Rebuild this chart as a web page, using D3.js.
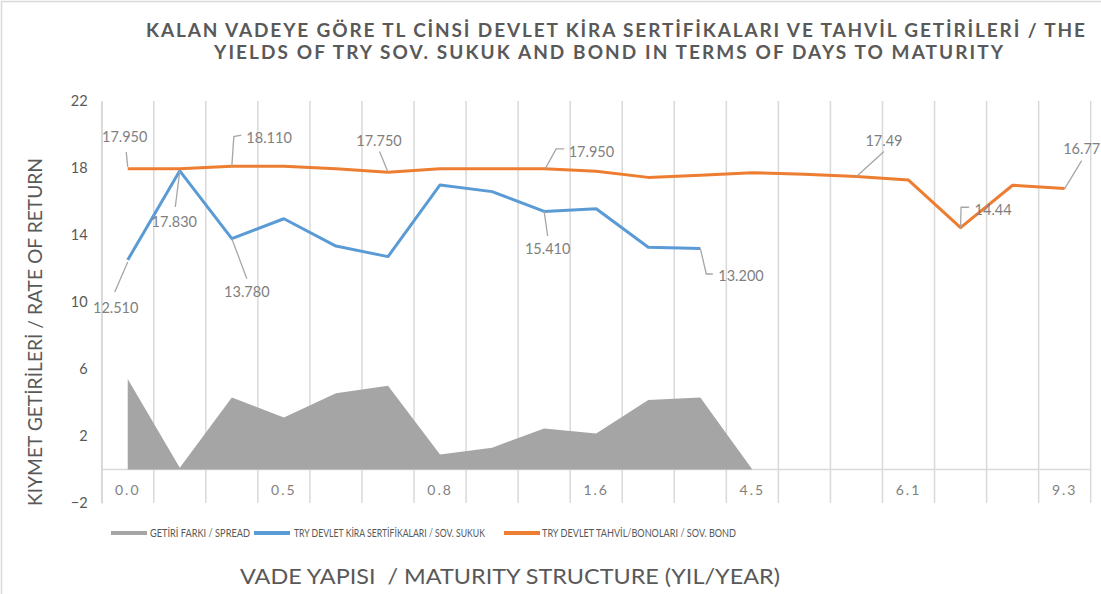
<!DOCTYPE html>
<html><head><meta charset="utf-8">
<script src="https://cdn.jsdelivr.net/npm/d3@7"></script>
<style>body{margin:0;background:#fff}svg{display:block}text{font-family:Lato,"Open Sans",sans-serif}</style>
</head><body><svg id="c" width="1101" height="594"></svg>
<script>
// ---- data ----
const categoryIndex = d3.range(19);
const tickLabels = ["0.0","","","0.5","","","0.8","","","1.6","","","4.5","","","6.1","","","9.3"];
const bondValues = [17.95,17.95,18.11,18.10,17.95,17.75,17.95,17.95,17.95,17.80,17.44,17.56,17.72,17.62,17.49,17.28,14.44,16.97,16.77];
const sukukValues = [12.51,17.83,13.78,14.97,13.34,12.71,16.99,16.59,15.41,15.57,13.27,13.20];
const spreadValues = [5.40,0.10,4.30,3.10,4.55,5.00,0.90,1.30,2.45,2.15,4.15,4.30,0];
const yTicks = [-2,2,6,10,14,18,22];
const titleLines = ["KALAN VADEYE GÖRE TL CİNSİ DEVLET KİRA SERTİFİKALARI VE TAHVİL GETİRİLERİ / THE",
                    "YIELDS OF TRY SOV. SUKUK AND BOND IN TERMS OF DAYS TO MATURITY"];
const seriesNames = ["GETİRİ FARKI / SPREAD","TRY DEVLET KİRA SERTİFİKALARI / SOV. SUKUK","TRY DEVLET TAHVİL/BONOLARI / SOV. BOND"];
const yTitle = "KIYMET GETİRİLERİ / RATE OF RETURN";
const xTitle = "VADE YAPISI  / MATURITY STRUCTURE (YIL/YEAR)";
// labelled points: index, decimals
const bondLabelIdx = [[0,3],[2,3],[5,3],[8,3],[14,2],[16,2],[18,2]];
const sukukLabelIdx = [[0,3],[1,3],[2,3],[8,3],[11,3]];

// ---- layout (styles / positions) ----
const C = {orange:"#ED7D31", blue:"#5B9BD5", gray:"#A5A5A5", grid:"#D9D9D9", text:"#595959", label:"#7F7F7F", leader:"#A6A6A6"};
const bondLabelLayout = {
  0:{dx:-3,dy:-27,anchor:"middle",leader:[[0,-2],[-1.5,-17]]},
  2:{dx:14.5,dy:-23.5,anchor:"start",leader:[[0,0],[2,-29.5],[9.5,-31]]},
  5:{dx:-9,dy:-26.5,anchor:"middle",leader:[[0,0],[-8.4,-20.6]]},
  8:{dx:24.5,dy:-12,anchor:"start",leader:[[1,0],[12,-20],[20,-20]]},
  14:{dx:27.5,dy:-31,anchor:"middle",leader:[[0,0],[27.5,-25]]},
  16:{dx:14,dy:-12.7,anchor:"start",leader:[[0,0],[0.5,-20.4],[8.5,-20.4]]},
  18:{dx:17,dy:-34.4,anchor:"middle",leader:[[0,0],[17,-28]]}
};
const sukukLabelLayout = {
  0:{dx:-12,dy:53.5,anchor:"middle",leader:[[0,2],[-13,32]]},
  1:{dx:-5.5,dy:56,anchor:"middle",leader:[[0,0],[-4.5,36]]},
  2:{dx:15,dy:58,anchor:"middle",leader:[[0,0],[15,40]]},
  8:{dx:3.5,dy:43,anchor:"middle",leader:[[0,0],[3.5,24.6]]},
  11:{dx:18,dy:33,anchor:"start",leader:[[0,0],[6,25.6],[12.5,25.6]]}
};

const svg = d3.select("#c");
svg.append("rect").attr("x",1.5).attr("y",1.5).attr("width",1300).attr("height",800)
  .attr("fill","#fff").attr("stroke",C.grid).attr("stroke-width",1.5);

const x = d3.scaleBand().domain(categoryIndex).range([101.7,1090.7]).padding(0);
const y = d3.scaleLinear().domain([-2,22]).range([503,101]);
const cx = i => x(i) + x.bandwidth()/2;

// vertical gridlines at band edges
const edges = categoryIndex.map(i=>x(i)).concat([x.range()[1]]);
svg.append("g").selectAll("line").data(edges).join("line")
  .attr("x1",d=>d).attr("x2",d=>d).attr("y1",y(22)).attr("y2",y(-2))
  .attr("stroke",C.grid).attr("stroke-width",1.5);

// y axis
const yAxis = svg.append("g").attr("transform",`translate(${x.range()[0]},0)`)
  .call(d3.axisLeft(y).tickValues(yTicks).tickSize(0).tickPadding(14));
yAxis.select(".domain").attr("stroke",C.grid).attr("stroke-width",1.5);
yAxis.selectAll("text").attr("fill",C.text).style("font-size","14.5px").style("font-family","Lato");

// x axis at zero, labels low
svg.append("line").attr("x1",x.range()[0]).attr("x2",x.range()[1]).attr("y1",y(0)).attr("y2",y(0))
  .attr("stroke",C.grid).attr("stroke-width",1.5);
const xAxis = svg.append("g").attr("transform",`translate(0,${y(-2)})`)
  .call(d3.axisBottom(x).tickFormat(i=>tickLabels[i]).tickSize(0));
xAxis.select(".domain").remove();
xAxis.selectAll("text").attr("y",-13).attr("dy","0.35em").attr("fill",C.label)
  .style("font-size","14px").style("letter-spacing","2px").style("font-family","Lato");

// spread area
svg.append("path").datum(spreadValues)
  .attr("d", d3.area().x((d,i)=>cx(i)).y0(y(0)).y1(d=>y(d)))
  .attr("fill",C.gray);

// lines
const line = d3.line().x((d,i)=>cx(i)).y(d=>y(d));
svg.append("path").datum(sukukValues).attr("d",line).attr("fill","none")
  .attr("stroke",C.blue).attr("stroke-width",3).attr("stroke-linejoin","round");
svg.append("path").datum(bondValues).attr("d",line).attr("fill","none")
  .attr("stroke",C.orange).attr("stroke-width",3).attr("stroke-linejoin","round");

// data labels
function drawLabels(values, idx, layout){
  const g = svg.append("g");
  idx.forEach(([i,dec])=>{
    const L = layout[i], px = cx(i), py = y(values[i]);
    g.append("path").attr("d", d3.line()(L.leader.map(p=>[px+p[0],py+p[1]])))
      .attr("fill","none").attr("stroke",C.leader).attr("stroke-width",1.3);
    g.append("text").attr("x",px+L.dx).attr("y",py+L.dy).attr("text-anchor",L.anchor)
      .attr("fill",C.label).style("font-size","14.5px").text(d3.format(`.${dec}f`)(values[i]));
  });
}
drawLabels(bondValues, bondLabelIdx, bondLabelLayout);
drawLabels(sukukValues, sukukLabelIdx, sukukLabelLayout);

// title
const titlePos = [[146,37,939],[214,59,789]];
titleLines.forEach((t,k)=>{
  svg.append("text").attr("x",titlePos[k][0]).attr("y",titlePos[k][1])
    .attr("textLength",titlePos[k][2]).attr("lengthAdjust","spacing")
    .attr("fill",C.text).style("font-size","19px").style("font-weight","bold").text(t);
});

// axis titles
svg.append("text").attr("transform","translate(42,332) rotate(-90)").attr("text-anchor","middle")
  .attr("textLength",348).attr("lengthAdjust","spacingAndGlyphs")
  .attr("fill",C.text).style("font-size","19px").text(yTitle);
svg.append("text").attr("x",240).attr("y",584).style("white-space","pre")
  .attr("textLength",540).attr("lengthAdjust","spacingAndGlyphs")
  .attr("fill",C.text).style("font-size","21px").text(xTitle);

// legend
const legendItems = [
  {name:seriesNames[0], color:C.gray, sx:111, tx:150, tw:100},
  {name:seriesNames[1], color:C.blue, sx:254, tx:294, tw:191},
  {name:seriesNames[2], color:C.orange, sx:504, tx:542, tw:194}
];
const lg = svg.append("g");
legendItems.forEach(d=>{
  lg.append("line").attr("x1",d.sx).attr("x2",d.sx+36).attr("y1",533).attr("y2",533)
    .attr("stroke",d.color).attr("stroke-width",4);
  lg.append("text").attr("x",d.tx).attr("y",537).attr("textLength",d.tw).attr("lengthAdjust","spacingAndGlyphs")
    .attr("fill",C.text).style("font-size","10.5px").text(d.name);
});
</script></body></html>
